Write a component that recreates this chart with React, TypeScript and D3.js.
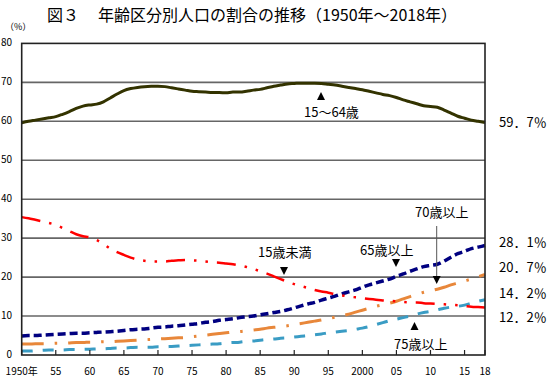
import React from "react";
import * as d3 from "d3";

const years: number[] = d3.range(1950, 2019);

const age15to64 = [
  59.6, 60.0, 60.3, 60.6, 60.9,
  61.2, 61.8, 62.5, 63.3, 63.9,
  64.2, 64.4, 65.0, 66.0, 67.0,
  67.9, 68.4, 68.7, 68.9, 69.0,
  69.0, 68.9, 68.6, 68.3, 68.0,
  67.7, 67.6, 67.5, 67.4, 67.4,
  67.3, 67.5, 67.5, 67.7, 68.0,
  68.2, 68.6, 69.0, 69.3, 69.6,
  69.7, 69.8, 69.8, 69.8, 69.7,
  69.5, 69.3, 69.0, 68.7, 68.4,
  68.1, 67.7, 67.3, 66.9, 66.6,
  66.1, 65.5, 65.0, 64.5, 64.0,
  63.8, 63.6, 62.9, 62.1, 61.3,
  60.8, 60.3, 60.0, 59.7,
];

const under15 = [
  35.4, 35.1, 34.7, 34.3, 33.9,
  33.4, 32.6, 31.8, 31.0, 30.5,
  30.2, 29.5, 28.5, 27.3, 26.4,
  25.7, 25.0, 24.5, 24.2, 24.0,
  24.0, 24.0, 24.2, 24.3, 24.4,
  24.3, 24.2, 24.0, 23.8, 23.7,
  23.5, 23.3, 23.0, 22.6, 22.1,
  21.5, 20.9, 20.2, 19.5, 18.8,
  18.2, 17.7, 17.2, 16.7, 16.3,
  16.0, 15.6, 15.3, 15.0, 14.8,
  14.6, 14.4, 14.2, 14.0, 13.9,
  13.8, 13.6, 13.5, 13.5, 13.3,
  13.2, 13.1, 13.0, 12.9, 12.8,
  12.6, 12.4, 12.3, 12.2,
];

const age65plus = [
  4.9, 5.0, 5.0, 5.1, 5.2,
  5.3, 5.4, 5.5, 5.6, 5.6,
  5.7, 5.8, 5.9, 6.0, 6.1,
  6.3, 6.5, 6.6, 6.7, 6.9,
  7.1, 7.2, 7.4, 7.5, 7.7,
  7.9, 8.1, 8.4, 8.6, 8.9,
  9.1, 9.3, 9.6, 9.8, 10.0,
  10.3, 10.6, 10.9, 11.2, 11.6,
  12.1, 12.6, 13.1, 13.5, 14.1,
  14.6, 15.1, 15.7, 16.2, 16.7,
  17.4, 18.0, 18.5, 19.0, 19.5,
  20.2, 20.8, 21.5, 22.1, 22.7,
  23.0, 23.3, 24.1, 25.1, 26.0,
  26.6, 27.3, 27.7, 28.1,
];

const age70plus = [
  2.8, 2.8, 2.9, 2.9, 2.9,
  3.0, 3.0, 3.1, 3.2, 3.2,
  3.3, 3.3, 3.4, 3.4, 3.5,
  3.6, 3.7, 3.8, 3.9, 4.0,
  4.1, 4.2, 4.3, 4.4, 4.5,
  4.7, 4.9, 5.1, 5.3, 5.5,
  5.7, 5.9, 6.0, 6.2, 6.4,
  6.6, 6.9, 7.1, 7.3, 7.5,
  7.8, 8.1, 8.4, 8.7, 9.0,
  9.4, 9.7, 10.1, 10.5, 11.0,
  11.5, 12.0, 12.5, 12.9, 13.3,
  13.8, 14.4, 15.0, 15.6, 16.1,
  16.5, 16.9, 17.4, 18.0, 18.5,
  19.0, 19.5, 20.1, 20.7,
];

const age75plus = [
  1.0, 1.0, 1.1, 1.2, 1.3,
  1.3, 1.3, 1.4, 1.4, 1.45,
  1.5, 1.55, 1.6, 1.7, 1.8,
  1.8, 1.9, 2.0, 2.0, 2.0,
  2.1, 2.1, 2.2, 2.3, 2.4,
  2.5, 2.6, 2.7, 2.8, 2.9,
  3.1, 3.2, 3.3, 3.5, 3.6,
  3.8, 4.0, 4.1, 4.3, 4.4,
  4.6, 4.8, 5.0, 5.2, 5.4,
  5.7, 5.9, 6.1, 6.3, 6.6,
  6.9, 7.3, 7.8, 8.3, 8.8,
  9.2, 9.6, 10.0, 10.5, 10.9,
  11.2, 11.6, 12.0, 12.3, 12.5,
  12.8, 13.3, 13.8, 14.2,
];

const yTicks = [0, 10, 20, 30, 40, 50, 60, 70, 80];
const xTickYears = [1950, 1955, 1960, 1965, 1970, 1975, 1980, 1985, 1990, 1995, 2000, 2005, 2010, 2015, 2018];
const xTickLabels = ["1950年", "55", "60", "65", "70", "75", "80", "85", "90", "95", "2000", "05", "10", "15", "18"];

const endLabels = ["59．7％", "28．1％", "20．7％", "14．2％", "12．2％"];
const endLabelY = [123, 243, 268, 294, 318];

const FONT = "'Noto Sans CJK JP', 'Noto Sans', sans-serif";

export default function App() {
  const W = 550;
  const H = 383;
  const left = 21.7;
  const right = 485;
  const top = 43.4;
  const bottom = 355;

  const x = d3.scaleLinear().domain([1950, 2018]).range([left, right]);
  const y = d3.scaleLinear().domain([0, 80]).range([bottom, top]);

  const line = (vals: number[]) =>
    d3
      .line<number>()
      .x((_, i) => x(years[i]))
      .y((d) => y(d))
      .curve(d3.curveMonotoneX)(vals) || "";

  const series = [
    { vals: age75plus, color: "#3a9cc4", width: 3, dash: "11 10" },
    { vals: age70plus, color: "#e8873a", width: 3, dash: "22 11 2.5 11" },
    { vals: age65plus, color: "#000080", width: 3.5, dash: "8 4" },
    { vals: under15, color: "#ff0000", width: 2.5, dash: "19 9 2.5 9 2.5 9" },
    { vals: age15to64, color: "#333300", width: 3, dash: "none" },
  ];

  const tri = (cx: number, cy: number, up: boolean, w = 8, h = 8) =>
    up
      ? `M${cx - w / 2},${cy + h / 2}L${cx + w / 2},${cy + h / 2}L${cx},${cy - h / 2}Z`
      : `M${cx - w / 2},${cy - h / 2}L${cx + w / 2},${cy - h / 2}L${cx},${cy + h / 2}Z`;

  return (
    <svg
      width={W}
      height={H}
      style={{ position: "absolute", left: 0, top: 0, background: "#fff" }}
      fontFamily={FONT}
    >
      <rect x={0} y={0} width={W} height={H} fill="#fff" />
      <text x={47} y={21} fontSize={16} fill="#000">図３</text>
      <text x={98} y={21} fontSize={16} fill="#000">年齢区分別人口の割合の推移（1950年～2018年）</text>
      <text x={5} y={30} fontSize={9} fill="#000">（%）</text>

      {yTicks.filter((t) => t > 0 && t < 80).map((t) => (
        <line key={t} x1={left} x2={right} y1={y(t)} y2={y(t)} stroke="#666" strokeWidth={1.6} />
      ))}

      {series.map((s, i) => (
        <path
          key={i}
          d={line(s.vals)}
          fill="none"
          stroke={s.color}
          strokeWidth={s.width}
          strokeDasharray={s.dash}
        />
      ))}

      <rect x={left} y={top} width={right - left} height={bottom - top} fill="none" stroke="#222" strokeWidth={1.6} />

      {xTickYears.map((yr) => (
        <line key={yr} x1={x(yr)} x2={x(yr)} y1={bottom} y2={bottom - 5} stroke="#222" strokeWidth={1.2} />
      ))}

      {yTicks.map((t) => (
        <text key={t} x={12} y={y(t)} fontSize={10} textAnchor="end" dominantBaseline="middle" fill="#000">
          {t}
        </text>
      ))}

      {xTickYears.map((yr, i) => (
        <text key={yr} x={x(yr)} y={375} fontSize={10} textAnchor="middle" fill="#000">
          {xTickLabels[i]}
        </text>
      ))}

      {endLabels.map((lab, i) => (
        <text key={lab} x={499} y={endLabelY[i]} fontSize={13} dominantBaseline="middle" fill="#000">
          {lab}
        </text>
      ))}

      <path d={tri(321, 96, true)} fill="#000" />
      <text x={304} y={117} fontSize={13} fill="#000">15～64歳</text>

      <text x={258} y={257} fontSize={13} fill="#000">15歳未満</text>
      <path d={tri(284, 271, false)} fill="#000" />

      <text x={360} y={255} fontSize={13} fill="#000">65歳以上</text>
      <path d={tri(396, 263, false)} fill="#000" />

      <text x={415} y={217} fontSize={13} fill="#000">70歳以上</text>
      <line x1={436.7} x2={436.7} y1={226} y2={277} stroke="#555" strokeWidth={1} />
      <path d={tri(436.7, 280, false)} fill="#000" />

      <path d={tri(414.5, 326, true)} fill="#000" />
      <text x={394} y={349} fontSize={13} fill="#000">75歳以上</text>
    </svg>
  );
}
